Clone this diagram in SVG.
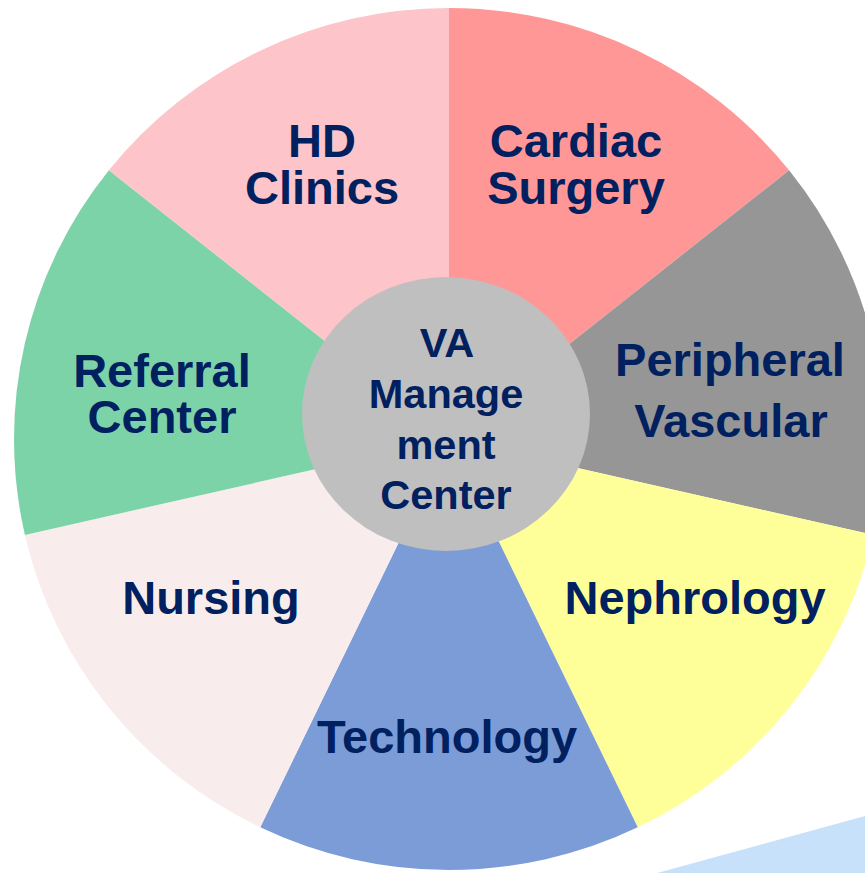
<svg xmlns="http://www.w3.org/2000/svg" width="865" height="873" viewBox="0 0 865 873">
  <style>
    .lbl { font-family: "Liberation Sans", Arial, sans-serif; font-weight: bold; font-size: 47px; fill: #002060; text-anchor: middle; }
    .hub { font-size: 41.5px; }
  </style>
  <rect x="0" y="0" width="865" height="873" fill="#ffffff"/>
  <!-- pale band in the lower right corner -->
  <polygon points="657,873 865,816 865,873" fill="#C8E1FB"/>

  <!-- wheel segments: spokes from (449,439), rim ellipse rx 435 ry 431 -->
  <g id="cardiac-surgery">
    <path d="M449 439 L449 8 A435 431 0 0 1 789.1 170.28 Z" fill="#FF9797"/>
    <text class="lbl" x="576" y="157">Cardiac</text>
    <text class="lbl" x="576" y="204">Surgery</text>
  </g>
  <g id="peripheral-vascular">
    <path d="M449 439 L789.1 170.28 A435 431 0 0 1 873.09 534.91 Z" fill="#969696"/>
    <text class="lbl" x="730" y="376">Peripheral</text>
    <text class="lbl" x="731" y="437">Vascular</text>
  </g>
  <g id="nephrology">
    <path d="M449 439 L873.09 534.91 A435 431 0 0 1 637.74 827.32 Z" fill="#FFFF99"/>
    <text class="lbl" x="695" y="614">Nephrology</text>
  </g>
  <g id="technology">
    <path d="M449 439 L637.74 827.32 A435 431 0 0 1 260.26 827.32 Z" fill="#7B9CD6"/>
    <text class="lbl" x="447" y="753">Technology</text>
  </g>
  <g id="nursing">
    <path d="M449 439 L260.26 827.32 A435 431 0 0 1 24.91 534.91 Z" fill="#F8EDEC"/>
    <text class="lbl" x="211" y="614">Nursing</text>
  </g>
  <g id="referral-center">
    <path d="M449 439 L24.91 534.91 A435 431 0 0 1 108.9 170.28 Z" fill="#7DD3A8"/>
    <text class="lbl" x="162" y="387">Referral</text>
    <text class="lbl" x="162" y="433">Center</text>
  </g>
  <g id="hd-clinics">
    <path d="M449 439 L108.9 170.28 A435 431 0 0 1 449 8 Z" fill="#FDC4C9"/>
    <text class="lbl" x="322" y="157">HD</text>
    <text class="lbl" x="322" y="204">Clinics</text>
  </g>

  <!-- hub -->
  <g id="va-management-center">
    <ellipse cx="446" cy="414" rx="144" ry="137" fill="#BFBFBF"/>
    <text class="lbl hub" x="447" y="357">VA</text>
    <text class="lbl hub" x="446" y="408">Manage</text>
    <text class="lbl hub" x="446" y="458.5">ment</text>
    <text class="lbl hub" x="446" y="509">Center</text>
  </g>
</svg>
